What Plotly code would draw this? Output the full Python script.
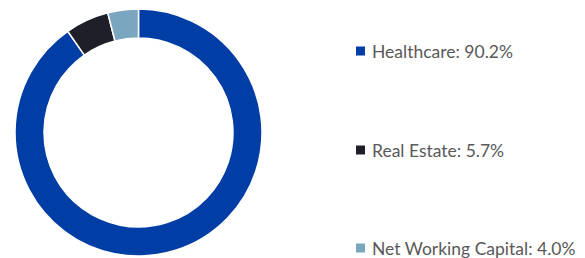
import plotly.graph_objects as go

categories = ["Healthcare", "Real Estate", "Net Working Capital"]
values = [90.2, 5.7, 4.0]
colors = ["#003DA5", "#1E1F29", "#7BA6BF"]
legend_y_px = [51, 150, 248]

W, H = 585, 258

fig = go.Figure(go.Pie(
    labels=categories,
    values=values,
    sort=False,
    direction="clockwise",
    rotation=0,
    hole=0.765,
    marker=dict(colors=colors, line=dict(color="white", width=1.5)),
    textinfo="none",
    hoverinfo="label+percent",
    showlegend=False,
    domain=dict(x=[15 / W, 262 / W], y=[1 - 256 / H, 1 - 9 / H]),
))

shapes = []
annotations = []
for cat, val, col, ypx in zip(categories, values, colors, legend_y_px):
    yc = 1 - ypx / H
    shapes.append(dict(type="rect", xref="paper", yref="paper",
                       x0=356 / W, x1=365 / W, y0=yc - 4.5 / H, y1=yc + 4.5 / H,
                       fillcolor=col, line=dict(width=0)))
    annotations.append(dict(x=370 / W, y=yc, xref="paper", yref="paper",
                            xanchor="left", yanchor="middle", showarrow=False,
                            text=f"{cat}: {val:.1f}%",
                            font=dict(family="Lato", size=17.5, color="#595959")))

fig.update_layout(
    width=W, height=H,
    margin=dict(l=0, r=0, t=0, b=0),
    paper_bgcolor="white", plot_bgcolor="white",
    shapes=shapes, annotations=annotations,
)

fig.write_html("out.html", config={"displayModeBar": False},
               post_script="document.body.style.margin='0';document.body.style.overflow='hidden';")
